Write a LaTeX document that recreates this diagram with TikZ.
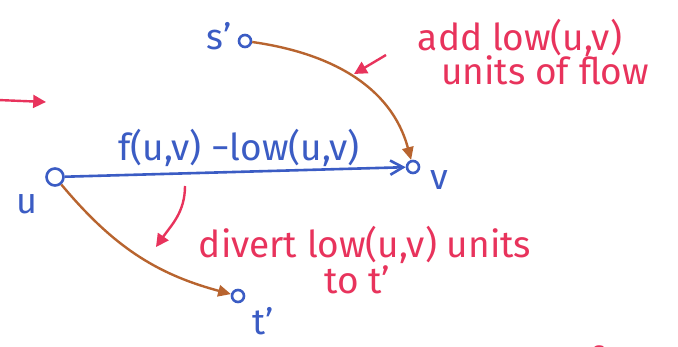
\documentclass[tikz,border=0pt]{standalone}
\usepackage{fontspec}
\setmainfont{Fira Sans}
\usepackage{xcolor}
\usetikzlibrary{arrows.meta,positioning}
\definecolor{Pen}{HTML}{3B5CC4}
\definecolor{Rust}{HTML}{B8642F}
\definecolor{Rose}{HTML}{E8335C}
\tikzset{
  vertex/.style={circle,draw=Pen,line width=2.6pt,minimum size=12pt,inner sep=0pt},
  vlabel/.style={text=Pen,font=\fontsize{36}{36}\selectfont,inner sep=0pt},
  note/.style={text=Rose,font=\fontsize{37}{32}\selectfont,inner sep=0pt},
  flowarr/.style={-{Straight Barb[length=4.5mm,width=5mm]},draw=Pen,line width=2.6pt},
  shiftarr/.style={-{Triangle[length=4.5mm,width=4mm]},draw=Rust,line width=2.4pt},
  notearr/.style={-{Triangle[length=4.5mm,width=4.5mm]},draw=Rose,line width=2.4pt}
}

\begin{document}
\begin{tikzpicture}[x=1pt,y=-1pt]
  \useasboundingbox[fill=white] (0,0) rectangle (678,347);
  % vertices
  \node[vertex] (s) at (245,41) {};
  \node[vertex,minimum size=17pt] (u) at (55,177) {};
  \node[vertex] (v) at (413,167) {};
  \node[vertex] (t) at (238,296) {};
  \node[vlabel] (slab) at (219,36) {s'};
  \node[vlabel] (ulab) at (27,204) {u};
  \node[vlabel] (vlab) at (439,180) {v};
  \node[vlabel] (tlab) at (263,321) {t'};
  \node[vlabel] (glab) at (45,-14) {G.};
  % edges
  \draw[flowarr] (u) -- (v);
  \node[text=Pen,font=\fontsize{37}{40}\selectfont,inner sep=0pt] (flab) at (239,148) {f(u,v) −low(u,v)};
  \draw[shiftarr] (s) to[out=-8,in=105] (v);
  \draw[shiftarr] (u) to[out=-50,in=165] (t);
  % notes
  \node[note] (addnote) at (520,38) {add low(u,v)};
  \node[note] (flownote) at (545,70) {units of flow};
  \node[note] (divnote) at (365,245) {divert low(u,v) units};
  \node[note] (tonote) at (357,280) {to t'};
  \node[note] (ofnote) at (585,360) {of};
  \coordinate (a1) at (386,55);
  \coordinate (a2) at (354,74);
  \coordinate (d1) at (185,186);
  \coordinate (d2) at (156,247);
  \coordinate (l1) at (-2,100);
  \coordinate (l2) at (46,102);
  \draw[notearr] (a1) -- (a2);
  \draw[notearr] (d1) to[out=-90,in=55] (d2);
  \draw[notearr] (l1) -- (l2);
\end{tikzpicture}
\end{document}
